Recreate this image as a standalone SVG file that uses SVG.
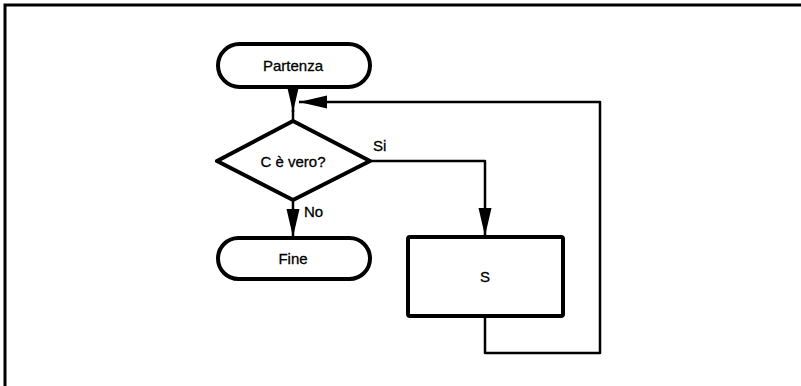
<svg xmlns="http://www.w3.org/2000/svg" width="801" height="386" viewBox="0 0 801 386">
<style>
.node{fill:#fff;stroke:#000;stroke-width:4;stroke-linejoin:round}
.conn{fill:none;stroke:#000;stroke-width:2.5;stroke-linejoin:round}
.lbl{font-family:"Liberation Sans",Arial,sans-serif;font-size:15px;fill:#000;stroke:#000;stroke-width:0.3}
</style>
<defs>
<marker id="ah" markerUnits="userSpaceOnUse" markerWidth="30" markerHeight="16" viewBox="0 0 30 16" refX="28" refY="8" orient="auto">
<path d="M0,1.5 L28,8 L0,14.5 Z" fill="#000"/>
</marker>
</defs>
<rect width="801" height="386" fill="#fff"/>
<path d="M5,386 V5 H801" fill="none" stroke="#000" stroke-width="3"/>
<g id="connectors">
<path class="conn" d="M293,86 V112" marker-end="url(#ah)"/>
<path class="conn" d="M293,110 V121"/>
<path class="conn" d="M485,318 V353 H600 V102 H299" marker-end="url(#ah)"/>
<path class="conn" d="M370,161 H485 V236" marker-end="url(#ah)"/>
<path class="conn" d="M293,200 V237" marker-end="url(#ah)"/>
</g>
<g id="partenza">
<rect class="node" x="218" y="44" width="152" height="43" rx="21.5"/>
<text class="lbl" x="293" y="71" text-anchor="middle">Partenza</text>
</g>
<g id="decisione">
<path class="node" d="M293,121 L370,161 L293,200 L217,161 Z"/>
<text class="lbl" x="293" y="167" text-anchor="middle">C è vero?</text>
<text class="lbl" x="373" y="151">Si</text>
<text class="lbl" x="304" y="217">No</text>
</g>
<g id="fine">
<rect class="node" x="218" y="238" width="152" height="41" rx="20.5"/>
<text class="lbl" x="293" y="264" text-anchor="middle">Fine</text>
</g>
<g id="s">
<rect class="node" x="408" y="237" width="155" height="79" rx="2"/>
<text class="lbl" x="485" y="282" text-anchor="middle">S</text>
</g>
</svg>
